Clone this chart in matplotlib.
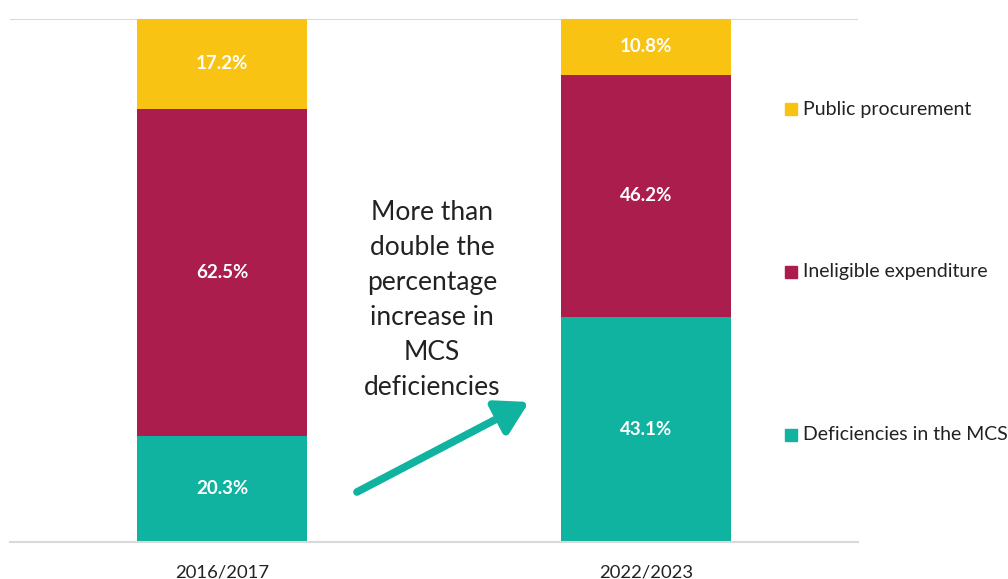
import matplotlib
matplotlib.use("Agg")
import matplotlib.pyplot as plt
import numpy as np

plt.rcParams['font.family'] = ['Lato', 'DejaVu Sans']

periods = ["2016/2017", "2022/2023"]
series_names = ["Deficiencies in the MCS", "Ineligible expenditure", "Public procurement"]
deficiencies_mcs = [20.3, 43.1]
ineligible_expenditure = [62.5, 46.2]
public_procurement = [17.2, 10.8]
colors = ["#10B2A0", "#AA1D4C", "#F9C313"]

note = "More than\ndouble the\npercentage\nincrease in\nMCS\ndeficiencies"

fig = plt.figure(figsize=(10.08, 5.79), dpi=100)
ax = fig.add_axes([10 / 1008, 1 - 542 / 579, 848 / 1008, 523 / 579])

x = np.arange(len(periods))
bottom = np.zeros(len(periods))
stack = [deficiencies_mcs, ineligible_expenditure, public_procurement]
for vals, col in zip(stack, colors):
    vals = np.array(vals)
    ax.bar(x, vals, width=0.4, bottom=bottom, color=col, zorder=2, clip_on=True)
    for xi, b, v in zip(x, bottom, vals):
        ax.text(xi, b + v / 2, f"{v:.1f}%", ha="center", va="center",
                color="white", fontsize=13.5, fontweight="bold", zorder=3)
    bottom += vals

ax.set_xlim(-0.5, 1.5)
ax.set_ylim(0, 100)
ax.axhline(100, color="#D9D9D9", lw=1.5, zorder=1)
for s in ["top", "right", "left"]:
    ax.spines[s].set_visible(False)
ax.spines["bottom"].set_color("#D9D9D9")
ax.spines["bottom"].set_linewidth(1.5)
ax.set_yticks([])
ax.set_xticks(x)
ax.set_xticklabels(periods, fontsize=13.3, color="#222222")
ax.tick_params(axis="x", length=0, pad=16)

# legend entries stacked down the right side
legend_y = [109, 272, 435]
for name, col, yp in zip(series_names[::-1], colors[::-1], legend_y):
    fig.patches.append(plt.Rectangle((785 / 1008, 1 - (yp + 6) / 579), 12 / 1008, 12 / 579,
                                     transform=fig.transFigure, color=col))
    fig.text(803 / 1008, 1 - yp / 579, name, ha="left", va="center",
             fontsize=14, color="#222222")

# annotation
fig.text(432 / 1008, 1 - 300 / 579, note, ha="center", va="center",
         fontsize=19, color="#222222", linespacing=1.5)
fig.add_artist(matplotlib.patches.FancyArrowPatch(
    (357 / 1008, 1 - 492 / 579), (529 / 1008, 1 - 402 / 579),
    transform=fig.transFigure, arrowstyle="-|>,head_length=1.2,head_width=0.7",
    mutation_scale=16, color="#10B2A0", lw=5.5, shrinkA=0, shrinkB=0))

fig.savefig("out.png", dpi=100)
